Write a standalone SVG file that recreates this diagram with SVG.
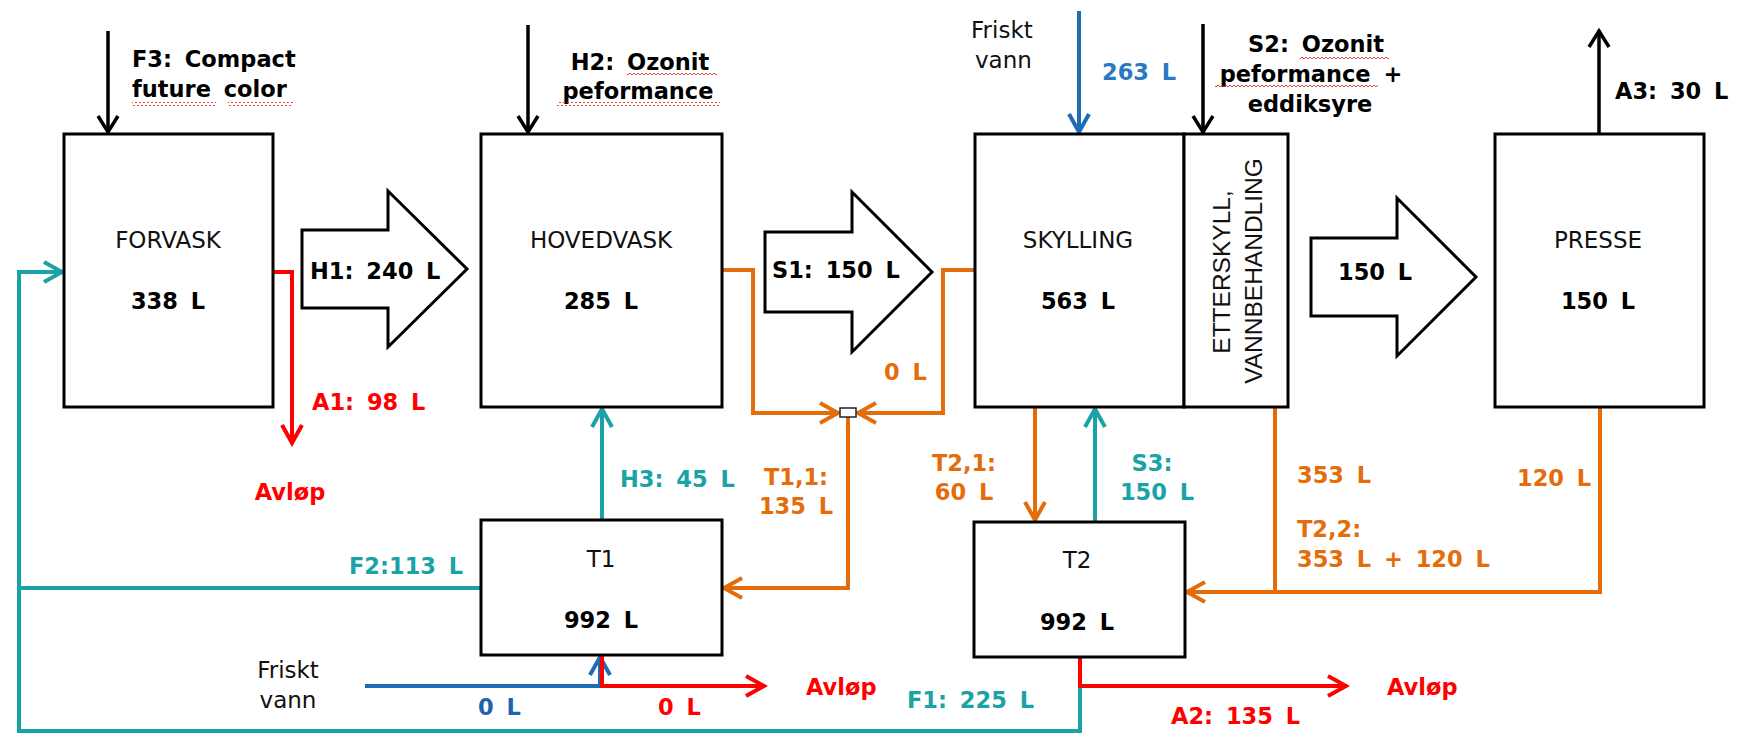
<svg xmlns="http://www.w3.org/2000/svg" width="1740" height="736" viewBox="0 0 1740 736">
<style>
.box{fill:#fff;stroke:#000;stroke-width:3}
.blk{fill:#fff;stroke:#000;stroke-width:3;stroke-linejoin:miter}
.reg{font-family:"DejaVu Sans","Liberation Sans",sans-serif;font-size:23px;fill:#111}
.rot{font-family:"Liberation Sans",Arial,sans-serif;font-size:24.5px;fill:#111}
.b{font-family:"DejaVu Sans","Liberation Sans",sans-serif;font-size:22.5px;font-weight:bold;word-spacing:5px}
.k{fill:#000}.t{fill:#19A3A6}.o{fill:#E46C0A}.r{fill:#FF0000}.bl{fill:#2B78C2}.bl2{fill:#1F62AE}
.m{text-anchor:middle}
.ln{fill:none;stroke-width:4;stroke-linejoin:miter}
.lk{fill:none;stroke:#000;stroke-width:3.5}
.lt{stroke:#19A3A6}.lo{stroke:#E46C0A}.lr{stroke:#FF0000}.lb{stroke:#1F6CB5}
</style>
<defs>
<marker id="mk" viewBox="-21 -12 24 24" refX="0" refY="0" markerWidth="24" markerHeight="24" markerUnits="userSpaceOnUse" orient="auto"><path d="M-17,-10 L-1,0 L-17,10" fill="none" stroke="#000" stroke-width="3.5"/></marker>
<marker id="mt" viewBox="-21 -12 24 24" refX="0" refY="0" markerWidth="24" markerHeight="24" markerUnits="userSpaceOnUse" orient="auto"><path d="M-19,-10 L-1,0 L-19,10" fill="none" stroke="#19A3A6" stroke-width="4"/></marker>
<marker id="mo" viewBox="-21 -12 24 24" refX="0" refY="0" markerWidth="24" markerHeight="24" markerUnits="userSpaceOnUse" orient="auto"><path d="M-19,-10 L-1,0 L-19,10" fill="none" stroke="#E46C0A" stroke-width="4"/></marker>
<marker id="mr" viewBox="-21 -12 24 24" refX="0" refY="0" markerWidth="24" markerHeight="24" markerUnits="userSpaceOnUse" orient="auto"><path d="M-19,-10 L-1,0 L-19,10" fill="none" stroke="#FF0000" stroke-width="4"/></marker>
<marker id="mb" viewBox="-21 -12 24 24" refX="0" refY="0" markerWidth="24" markerHeight="24" markerUnits="userSpaceOnUse" orient="auto"><path d="M-19,-10 L-1,0 L-19,10" fill="none" stroke="#1F6CB5" stroke-width="4"/></marker>
<pattern id="sq" x="0" y="0" width="4" height="4" patternUnits="userSpaceOnUse"><path d="M0,3 L2,1 L4,3" fill="none" stroke="#E03030" stroke-width="0.9"/></pattern>
</defs>

<g id="connectors">
  <!-- chemical inputs / outputs -->
  <path class="lk" d="M108,31 V133" marker-end="url(#mk)"/>
  <path class="lk" d="M528,25 V133" marker-end="url(#mk)"/>
  <path class="ln lb" d="M1079,11 V133" marker-end="url(#mb)"/>
  <path class="lk" d="M1203,24 V133" marker-end="url(#mk)"/>
  <path class="lk" d="M1599,134 V30" marker-end="url(#mk)"/>
  <!-- block arrows -->
  <polygon class="blk" points="302,230 388,230 388,191 467,269 388,347 388,308 302,308"/>
  <polygon class="blk" points="765,232 852,232 852,192 932,272 852,352 852,312 765,312"/>
  <polygon class="blk" points="1311,238 1397,238 1397,198 1476,277 1397,356 1397,316 1311,316"/>
  <!-- teal F1/F2 loop -->
  <path class="ln lt" d="M1080,686 V731 H19 V272 H63" marker-end="url(#mt)"/>
  <path class="ln lt" d="M481,588 H19"/>
  <!-- red A1 -->
  <path class="ln lr" d="M273,272 H292 V444" marker-end="url(#mr)"/>
  <!-- orange to junction -->
  <path class="ln lo" d="M722,270 H753 V413 H839" marker-end="url(#mo)"/>
  <path class="ln lo" d="M975,270 H943 V413 H857" marker-end="url(#mo)"/>
  <path class="ln lo" d="M848,417 V588 H723" marker-end="url(#mo)"/>
  <rect x="840" y="408" width="16" height="9" fill="#fff" stroke="#222" stroke-width="1.5"/>
  <!-- H3 teal -->
  <path class="ln lt" d="M602,520 V408" marker-end="url(#mt)"/>
  <!-- T2,1 / S3 -->
  <path class="ln lo" d="M1035,407 V521" marker-end="url(#mo)"/>
  <path class="ln lt" d="M1095,522 V408" marker-end="url(#mt)"/>
  <!-- T2,2 -->
  <path class="ln lo" d="M1275,402 V592"/>
  <path class="ln lo" d="M1600,407 V592 H1186" marker-end="url(#mo)"/>
  <!-- bottom fresh water / drains -->
  <path class="ln lb" d="M365,686 H600 V656" marker-end="url(#mb)"/>
  <path class="ln lr" d="M602,655 V686 H765" marker-end="url(#mr)"/>
  <path class="ln lr" d="M1080,657 V686 H1347" marker-end="url(#mr)"/>
</g>

<g id="forvask">
  <rect class="box" x="64" y="134" width="209" height="273"/>
  <text class="reg m" x="168" y="248">FORVASK</text>
  <text class="b k m" x="168" y="309">338 L</text>
</g>
<g id="hovedvask">
  <rect class="box" x="481" y="134" width="241" height="273"/>
  <text class="reg m" x="601" y="248">HOVEDVASK</text>
  <text class="b k m" x="601" y="309">285 L</text>
</g>
<g id="skylling">
  <rect class="box" x="975" y="134" width="209" height="273"/>
  <text class="reg m" x="1078" y="248">SKYLLING</text>
  <text class="b k m" x="1078" y="309">563 L</text>
</g>
<g id="etterskyll">
  <rect class="box" x="1184" y="134" width="104" height="273"/>
  <text class="rot m" transform="translate(1230,272) rotate(-90)">ETTERSKYLL,</text>
  <text class="rot m" transform="translate(1262,271) rotate(-90)">VANNBEHANDLING</text>
</g>
<g id="presse">
  <rect class="box" x="1495" y="134" width="209" height="273"/>
  <text class="reg m" x="1598" y="248">PRESSE</text>
  <text class="b k m" x="1598" y="309">150 L</text>
</g>
<g id="t1">
  <rect class="box" x="481" y="520" width="241" height="135"/>
  <text class="reg m" x="601" y="567">T1</text>
  <text class="b k m" x="601" y="628">992 L</text>
</g>
<g id="t2">
  <rect class="box" x="974" y="522" width="211" height="135"/>
  <text class="reg m" x="1077" y="568">T2</text>
  <text class="b k m" x="1077" y="630">992 L</text>
</g>

<g id="labels">
  <text class="b k" x="132" y="67">F3: Compact</text>
  <text class="b k" x="132" y="97">future color</text>
  <rect x="132" y="102" width="84" height="4" fill="url(#sq)"/>
  <rect x="228" y="102" width="65" height="4" fill="url(#sq)"/>

  <text class="b k m" x="640" y="70">H2: Ozonit</text>
  <text class="b k m" x="638" y="99">peformance</text>
  <rect x="627" y="71" width="90" height="4" fill="url(#sq)"/>
  <rect x="557" y="102" width="163" height="4" fill="url(#sq)"/>

  <text class="reg" x="971" y="38">Friskt</text>
  <text class="reg" x="975" y="68">vann</text>
  <text class="b bl" x="1102" y="80">263 L</text>

  <text class="b k m" x="1316" y="52">S2: Ozonit</text>
  <text class="b k m" x="1311" y="82">peformance +</text>
  <text class="b k m" x="1310" y="112">eddiksyre</text>
  <rect x="1300" y="55" width="89" height="4" fill="url(#sq)"/>
  <rect x="1215" y="85" width="163" height="4" fill="url(#sq)"/>

  <text class="b k" x="1615" y="99">A3: 30 L</text>
  <text class="b k" x="310" y="279">H1: 240 L</text>
  <text class="b k" x="772" y="278">S1: 150 L</text>
  <text class="b k" x="1338" y="280">150 L</text>

  <text class="b r" x="312" y="410">A1: 98 L</text>
  <text class="b r m" x="290" y="500">Avløp</text>
  <text class="b o" x="884" y="380">0 L</text>
  <text class="b t" x="620" y="487">H3: 45 L</text>
  <text class="b o m" x="796" y="485">T1,1:</text>
  <text class="b o m" x="796" y="514">135 L</text>
  <text class="b o m" x="964" y="471">T2,1:</text>
  <text class="b o m" x="964" y="500">60 L</text>
  <text class="b t m" x="1152" y="471">S3:</text>
  <text class="b t m" x="1157" y="500">150 L</text>
  <text class="b o" x="1297" y="483">353 L</text>
  <text class="b o" x="1517" y="486">120 L</text>
  <text class="b o" x="1297" y="537">T2,2:</text>
  <text class="b o" x="1297" y="567">353 L + 120 L</text>
  <text class="b t" x="349" y="574">F2:113 L</text>

  <text class="reg m" x="288" y="678">Friskt</text>
  <text class="reg m" x="288" y="708">vann</text>
  <text class="b bl2" x="478" y="715">0 L</text>
  <text class="b r" x="658" y="715">0 L</text>
  <text class="b r" x="806" y="695">Avløp</text>
  <text class="b t" x="907" y="708">F1: 225 L</text>
  <text class="b r" x="1387" y="695">Avløp</text>
  <text class="b r" x="1171" y="724">A2: 135 L</text>
</g>
</svg>
